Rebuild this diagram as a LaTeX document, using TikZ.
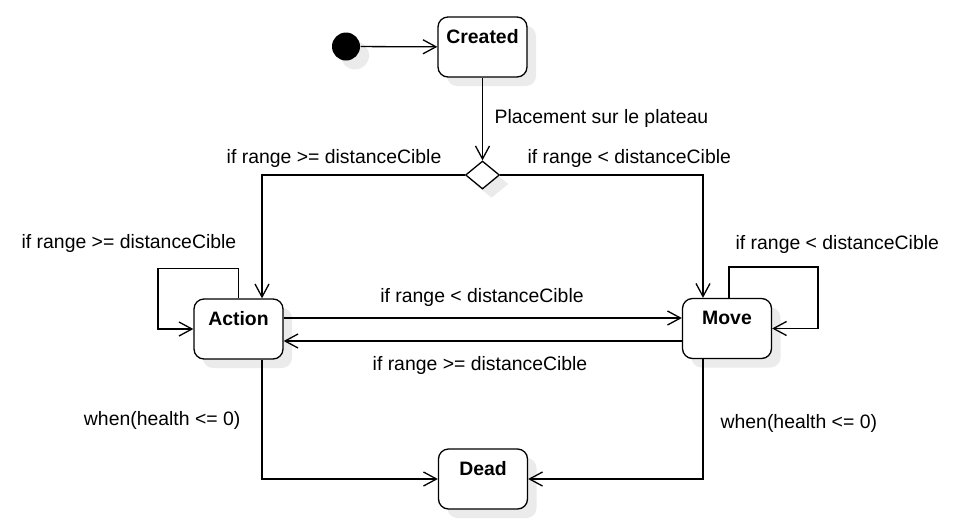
\documentclass[tikz,border=0pt]{standalone}
\usepackage{fontspec}
\setmainfont{Liberation Sans}
\usetikzlibrary{arrows.meta,shapes.geometric,shadows,calc}
\begin{document}
\begin{tikzpicture}[x=1pt,y=-1pt,
  font=\fontsize{19.4}{23}\selectfont,
  line width=1.3pt,
  shade/.style={drop shadow={shadow xshift=9pt,shadow yshift=-9pt,fill=black!8,opacity=1}},
  statebox/.style={draw,fill=white,rounded corners=10pt,minimum width=89pt,inner sep=0pt,
    text height=26pt,text depth=34pt,font=\fontsize{19.4}{23}\selectfont\bfseries,shade},
  arr/.style={-{Straight Barb[length=13pt,width=14pt]}},
  lbl/.style={inner sep=0pt}]
\useasboundingbox (0,0) rectangle (967,531);
% nodes
\node[circle,fill=black,minimum size=28pt,inner sep=0pt,shade] (init) at (346,46.5) {};
\node[statebox] (created) at (482.5,47) {Created};
\node[diamond,draw,fill=white,minimum width=34pt,minimum height=28pt,inner sep=0pt,shade] (dia) at (482.5,175) {};
\node[statebox] (act) at (238.5,329) {Action};
\node[statebox] (mv) at (727,328.5) {Move};
\node[statebox] (dead) at (483,479) {Dead};
% connectors
\draw[arr] (init) -- (created);
\draw[arr] (created) -- (dia);
\node[lbl,anchor=west] (l1) at (494,118) {Placement sur le plateau};
\draw[arr] (dia.west) -| ($(act.north)+(23.5,0)$);
\node[lbl,anchor=east] (l2) at (442,158) {if range >= distanceCible};
\draw[arr] (dia.east) -| ($(mv.north)+(-24,0)$);
\node[lbl,anchor=west] (l3) at (527,158) {if range < distanceCible};
\draw[arr] ($(act.north)+(0,0)$) -- ++(0,-30) -- ++(-80.5,0) |- (act.west);
\node[lbl,anchor=west] (l4) at (21,243) {if range >= distanceCible};
\draw[arr] ($(mv.north)+(2,0)$) -- ++(0,-31) -- ++(89,0) |- (mv.east);
\node[lbl,anchor=west] (l5) at (735,244) {if range < distanceCible};
\draw[arr] ($(act.east)+(0,-11)$) -- ($(mv.west)+(0,-10.5)$);
\node[lbl] (l6) at (482,297) {if range < distanceCible};
\draw[arr] ($(mv.west)+(0,12.5)$) -- ($(act.east)+(0,12)$);
\node[lbl] (l7) at (480,365) {if range >= distanceCible};
\draw[arr] ($(act.south)+(23.5,0)$) |- (dead.west);
\node[lbl,anchor=east] (l8) at (241,420) {when(health <= 0)};
\draw[arr] ($(mv.south)+(-24,0)$) |- (dead.east);
\node[lbl,anchor=west] (l9) at (720,423) {when(health <= 0)};
\end{tikzpicture}
\end{document}
